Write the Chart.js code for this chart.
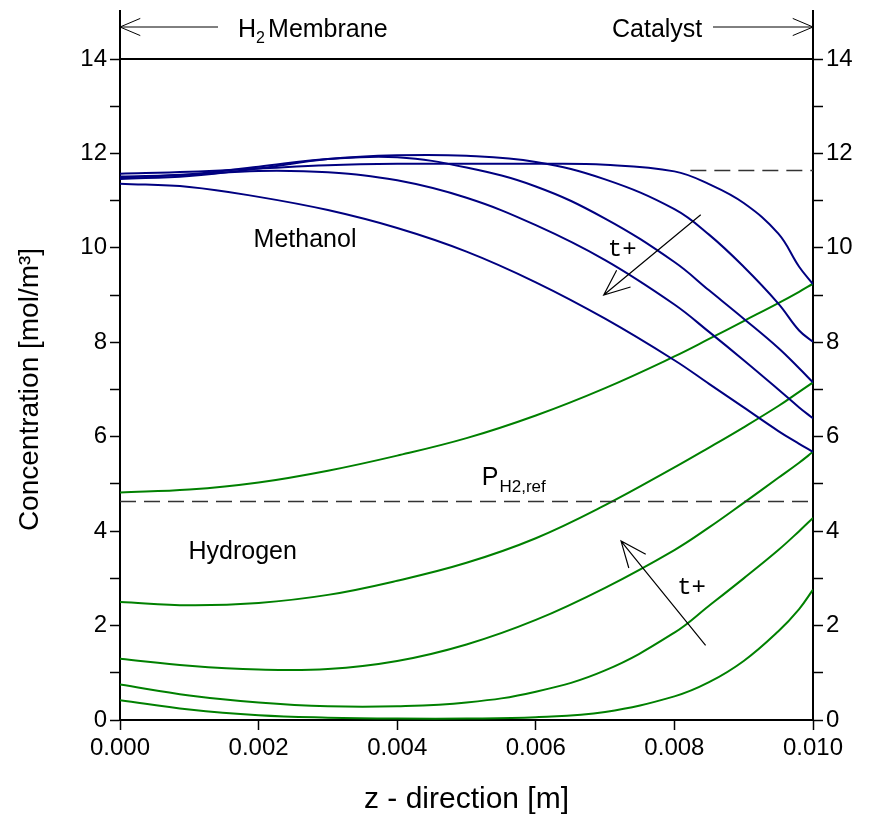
<!DOCTYPE html>
<html>
<head>
<meta charset="utf-8">
<script src="https://cdn.jsdelivr.net/npm/chart.js@4"></script>
<style>
  html, body { margin: 0; padding: 0; background: #fff; }
  #wrap { width: 869px; height: 820px; position: relative; }
</style>
</head>
<body>
<div id="wrap"><canvas id="chart"></canvas></div>
<script>
// positions along the reactor [m]
const zPos = [0, 0.001, 0.002, 0.003, 0.004, 0.005, 0.006, 0.007, 0.008, 0.0085, 0.009, 0.0095, 0.0098, 0.010]

// methanol profiles, earliest time first
const methanol1 = [11.57, 11.61, 11.68, 11.75, 11.78, 11.78, 11.78, 11.76, 11.62, 11.35, 10.95, 10.3, 9.6, 9.23]
const methanol2 = [11.46, 11.52, 11.68, 11.88, 11.96, 11.95, 11.82, 11.45, 10.82, 10.28, 9.6, 8.82, 8.25, 8.01]
const methanol3 = [11.51, 11.56, 11.72, 11.88, 11.92, 11.7, 11.3, 10.62, 9.7, 9.1, 8.5, 7.88, 7.45, 7.15]
const methanol4 = [11.49, 11.55, 11.63, 11.6, 11.43, 11.06, 10.48, 9.74, 8.8, 8.22, 7.62, 7.0, 6.62, 6.39]
const methanol5 = [11.36, 11.29, 11.08, 10.8, 10.42, 9.92, 9.27, 8.5, 7.62, 7.12, 6.62, 6.12, 5.85, 5.68]

// hydrogen profiles, latest time first
const hydrogen1 = [4.82, 4.88, 5.03, 5.28, 5.6, 5.97, 6.45, 7.03, 7.7, 8.07, 8.45, 8.83, 9.07, 9.24]
const hydrogen2 = [2.5, 2.43, 2.48, 2.65, 2.95, 3.33, 3.85, 4.55, 5.35, 5.77, 6.2, 6.65, 6.95, 7.15]
const hydrogen3 = [1.3, 1.15, 1.07, 1.08, 1.25, 1.6, 2.12, 2.8, 3.6, 4.08, 4.6, 5.13, 5.45, 5.68]
const hydrogen4 = [0.75, 0.52, 0.37, 0.29, 0.29, 0.37, 0.6, 1.05, 1.85, 2.42, 3.0, 3.6, 4.0, 4.28]
const hydrogen5 = [0.42, 0.22, 0.1, 0.05, 0.03, 0.03, 0.06, 0.17, 0.5, 0.8, 1.25, 1.88, 2.35, 2.76]

// reference levels (dashed)
const pH2Ref = 4.63
const methanolRef = 11.64
const methanolRefStart = 0.00823

const xTicks = [0, 0.002, 0.004, 0.006, 0.008, 0.010]

const navy = 'rgb(0, 0, 128)'
const green = 'rgb(0, 128, 0)'
const font = "'Liberation Sans', Arial, sans-serif"

const toPoints = vals => vals.map((v, i) => ({ x: zPos[i], y: v }))

const curve = (vals, color) => ({
    data: toPoints(vals),
    borderColor: color,
    borderWidth: 2,
    pointRadius: 0,
    fill: false,
    tension: 0.4,
})

const dashed = pts => ({
    data: pts,
    borderColor: '#333',
    borderWidth: 1.5,
    borderDash: [16, 8],
    pointRadius: 0,
    fill: false,
})

// open arrow head, drawn with two strokes
function arrow(ctx, x1, y1, x2, y2, head) {
    let a = Math.atan2(y2 - y1, x2 - x1)
    ctx.beginPath()
    ctx.moveTo(x1, y1)
    ctx.lineTo(x2, y2)
    ctx.moveTo(x2 - head * Math.cos(a - 0.4), y2 - head * Math.sin(a - 0.4))
    ctx.lineTo(x2, y2)
    ctx.lineTo(x2 - head * Math.cos(a + 0.4), y2 - head * Math.sin(a + 0.4))
    ctx.stroke()
}

const annotations = {
    id: 'annotations',
    afterDraw(chart) {
        let ctx = chart.ctx
        let area = chart.chartArea
        let xs = chart.scales.x
        let ys = chart.scales.y
        let px = v => xs.getPixelForValue(v)
        let py = v => ys.getPixelForValue(v)

        ctx.save()
        ctx.strokeStyle = '#000'
        ctx.fillStyle = '#000'

        // frame: top line and the vertical edges running up to the zone arrows
        ctx.lineWidth = 2
        ctx.beginPath()
        ctx.moveTo(area.left, area.top)
        ctx.lineTo(area.right, area.top)
        ctx.moveTo(area.left, 10)
        ctx.lineTo(area.left, area.top)
        ctx.moveTo(area.right, 10)
        ctx.lineTo(area.right, area.top)
        ctx.stroke()

        // zone arrows
        ctx.lineWidth = 1
        arrow(ctx, 218, 27, area.left, 27, 22)
        arrow(ctx, 713, 27, area.right, 27, 22)

        ctx.textBaseline = 'alphabetic'
        ctx.textAlign = 'left'
        ctx.font = '25px ' + font
        ctx.fillText('H', 238, 37)
        let hw = ctx.measureText('H').width
        ctx.font = '16px ' + font
        ctx.fillText('2', 238 + hw, 43)
        ctx.font = '25px ' + font
        ctx.fillText('Membrane', 238 + hw + 12, 37)
        ctx.fillText('Catalyst', 612, 37)

        // series labels
        ctx.textAlign = 'center'
        ctx.fillText('Methanol', px(0.00267), py(10.02))
        ctx.fillText('Hydrogen', px(0.00177), py(3.41))

        ctx.textAlign = 'left'
        ctx.fillText('P', px(0.00522), py(4.98))
        let pw = ctx.measureText('P').width
        ctx.font = '17px ' + font
        ctx.fillText('H2,ref', px(0.00522) + pw + 1, py(4.98) + 7)

        // time direction arrows
        ctx.lineWidth = 1.2
        arrow(ctx, px(0.00838), py(10.7), px(0.00698), py(9.0), 28)
        arrow(ctx, px(0.00845), py(1.58), px(0.00723), py(3.79), 28)

        ctx.font = "24px 'Liberation Mono', 'Courier New', monospace"
        ctx.fillText('t+', px(0.00704), py(9.82))
        ctx.fillText('t+', px(0.00804), py(2.67))
        ctx.restore()
    }
}

const axisCommon = {
    min: 0,
    max: 14,
    border: { display: true, color: '#000', width: 2 },
    grid: { drawOnChartArea: false, drawTicks: true, tickLength: 10, tickColor: '#000', tickWidth: 1.5 },
    ticks: {
        stepSize: 1,
        color: '#000',
        padding: 3,
        font: { family: font, size: 24 },
        callback: v => (v % 2 === 0 ? String(v) : ''),
    },
}

new Chart(document.getElementById('chart').getContext('2d'), {
    type: 'line',
    data: {
        datasets: [
            dashed([{ x: 0, y: pH2Ref }, { x: 0.01, y: pH2Ref }]),
            dashed([{ x: methanolRefStart, y: methanolRef }, { x: 0.01, y: methanolRef }]),
            curve(methanol1, navy),
            curve(methanol2, navy),
            curve(methanol3, navy),
            curve(methanol4, navy),
            curve(methanol5, navy),
            curve(hydrogen1, green),
            curve(hydrogen2, green),
            curve(hydrogen3, green),
            curve(hydrogen4, green),
            curve(hydrogen5, green),
        ]
    },
    options: {
        responsive: true,
        maintainAspectRatio: false,
        animation: false,
        layout: { padding: { top: 59, left: 0, right: 0, bottom: 0 } },
        plugins: {
            legend: { display: false },
            tooltip: { enabled: false },
        },
        scales: {
            x: {
                type: 'linear',
                position: 'bottom',
                min: 0,
                max: 0.01,
                afterFit: s => { s.height = 100 },
                afterBuildTicks: s => { s.ticks = xTicks.map(v => ({ value: v })) },
                border: { display: true, color: '#000', width: 2 },
                grid: { drawOnChartArea: false, drawTicks: true, tickLength: 10, tickColor: '#000', tickWidth: 1.5 },
                ticks: {
                    color: '#000',
                    padding: 4,
                    maxRotation: 0,
                    font: { family: font, size: 24 },
                    callback: v => v.toFixed(3),
                },
                title: {
                    display: true,
                    text: 'z - direction [m]',
                    color: '#000',
                    font: { family: font, size: 30 },
                    padding: { top: 0, bottom: 2 },
                },
            },
            y: {
                ...axisCommon,
                position: 'left',
                afterFit: s => { s.width = 120 },
                title: {
                    display: true,
                    text: 'Concentration [mol/m³]',
                    color: '#000',
                    font: { family: font, size: 28 },
                    padding: { top: 13, bottom: 0 },
                },
            },
            y2: {
                ...axisCommon,
                position: 'right',
                afterFit: s => { s.width = 56 },
            },
        },
    },
    plugins: [annotations],
})
</script>
</body>
</html>
